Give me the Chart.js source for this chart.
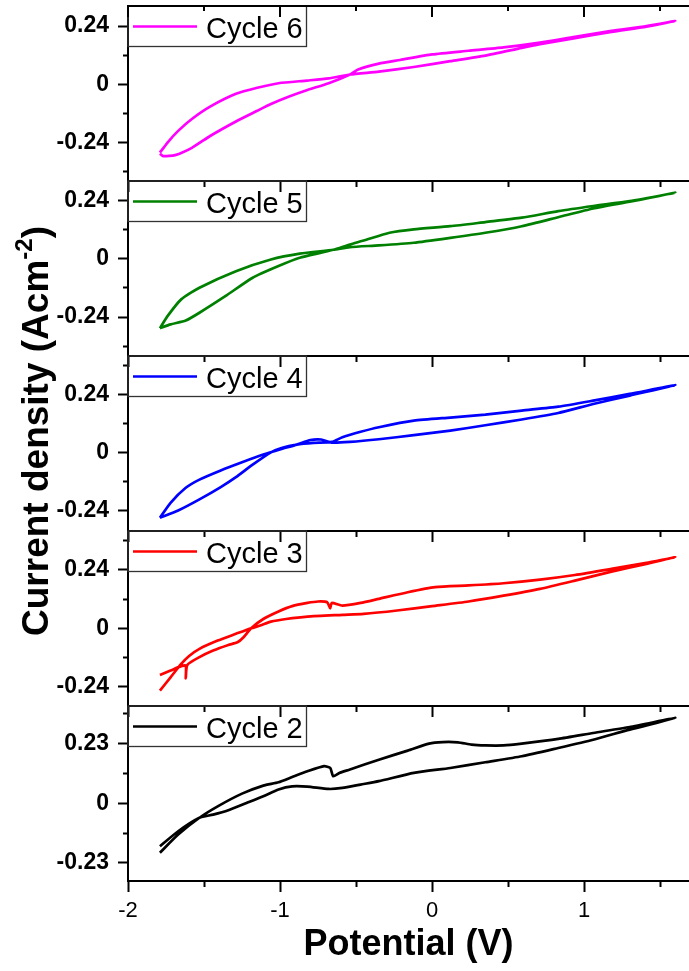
<!DOCTYPE html>
<html>
<head>
<meta charset="utf-8">
<title>Cyclic voltammetry - cycles 2 to 6</title>
<script src="https://cdn.jsdelivr.net/npm/chart.js@4.4.1/dist/chart.umd.min.js"></script>
<style>
  html, body { margin: 0; padding: 0; background: #fff; }
  #wrap { position: relative; width: 689px; height: 971px; overflow: hidden; }
  #wrap canvas { position: absolute; left: 0; top: 0; }
</style>
</head>
<body>
<div id="wrap">
  <canvas id="c6" width="689" height="971"></canvas>
  <canvas id="c5" width="689" height="971"></canvas>
  <canvas id="c4" width="689" height="971"></canvas>
  <canvas id="c3" width="689" height="971"></canvas>
  <canvas id="c2" width="689" height="971"></canvas>
</div>
<script>
// potential (V) and current density (A/cm2), in sweep order, one loop per cycle
const cycle6V = [-1.79, -1.74, -1.67, -1.58, -1.46, -1.29, -1.15, -1.01, -0.82, -0.68, -0.54, -0.35, -0.12, 0.12, 0.35, 0.59, 0.71, 0.94, 1.18, 1.41, 1.60, 1.41, 1.18, 0.94, 0.71, 0.47, 0.24, 0.00, -0.21, -0.35, -0.49, -0.54, -0.68, -0.82, -0.94, -1.06, -1.15, -1.29, -1.46, -1.58, -1.69, -1.77, -1.79];
const cycle6J = [-0.283, -0.241, -0.193, -0.144, -0.093, -0.040, -0.015, 0.004, 0.015, 0.024, 0.040, 0.052, 0.071, 0.095, 0.118, 0.150, 0.165, 0.190, 0.216, 0.238, 0.261, 0.240, 0.220, 0.196, 0.172, 0.152, 0.138, 0.123, 0.100, 0.085, 0.060, 0.040, 0.004, -0.024, -0.051, -0.082, -0.110, -0.154, -0.214, -0.263, -0.293, -0.297, -0.287];

const cycle5V = [-1.79, -1.74, -1.65, -1.53, -1.29, -1.06, -0.87, -0.65, -0.54, -0.35, -0.12, 0.12, 0.35, 0.59, 0.83, 1.06, 1.30, 1.60, 1.30, 1.06, 0.83, 0.59, 0.35, 0.12, -0.12, -0.28, -0.45, -0.54, -0.65, -0.73, -0.87, -1.01, -1.18, -1.36, -1.53, -1.62, -1.72, -1.79];
const cycle5J = [-0.286, -0.236, -0.167, -0.119, -0.051, -0.003, 0.021, 0.037, 0.048, 0.055, 0.066, 0.086, 0.107, 0.134, 0.171, 0.207, 0.235, 0.272, 0.237, 0.217, 0.196, 0.169, 0.151, 0.134, 0.121, 0.107, 0.075, 0.059, 0.037, 0.025, 0.004, -0.030, -0.078, -0.154, -0.222, -0.254, -0.270, -0.286];

const cycle4V = [-1.79, -1.72, -1.62, -1.53, -1.39, -1.25, -1.11, -0.99, -0.89, -0.80, -0.73, -0.66, -0.54, -0.35, -0.12, 0.12, 0.35, 0.59, 0.83, 1.06, 1.30, 1.60, 1.30, 1.06, 0.83, 0.59, 0.35, 0.12, -0.12, -0.35, -0.47, -0.59, -0.66, -0.78, -0.89, -0.99, -1.06, -1.18, -1.29, -1.39, -1.53, -1.67, -1.79];
const cycle4J = [-0.270, -0.208, -0.146, -0.112, -0.074, -0.040, -0.008, 0.015, 0.033, 0.052, 0.054, 0.041, 0.044, 0.055, 0.072, 0.091, 0.113, 0.137, 0.164, 0.201, 0.236, 0.279, 0.243, 0.215, 0.190, 0.174, 0.157, 0.145, 0.132, 0.105, 0.086, 0.063, 0.044, 0.040, 0.033, 0.019, 0.001, -0.050, -0.102, -0.143, -0.194, -0.240, -0.270];

const cycle3V = [-1.79, -1.72, -1.65, -1.62, -1.62, -1.61, -1.53, -1.44, -1.34, -1.28, -1.24, -1.19, -1.11, -1.01, -0.92, -0.82, -0.75, -0.69, -0.67, -0.66, -0.59, -0.47, -0.35, -0.16, 0.02, 0.24, 0.47, 0.71, 0.94, 1.18, 1.41, 1.60, 1.41, 1.18, 0.94, 0.71, 0.47, 0.24, 0.00, -0.23, -0.45, -0.59, -0.82, -0.96, -1.06, -1.13, -1.19, -1.29, -1.41, -1.53, -1.60, -1.65, -1.72, -1.79];
const cycle3J = [-0.192, -0.174, -0.156, -0.154, -0.206, -0.151, -0.119, -0.092, -0.069, -0.058, -0.037, 0.000, 0.038, 0.069, 0.091, 0.104, 0.110, 0.107, 0.082, 0.104, 0.093, 0.104, 0.121, 0.148, 0.169, 0.176, 0.185, 0.200, 0.219, 0.244, 0.269, 0.292, 0.265, 0.233, 0.196, 0.162, 0.134, 0.110, 0.091, 0.073, 0.059, 0.055, 0.048, 0.038, 0.027, 0.011, 0.000, -0.023, -0.051, -0.085, -0.115, -0.147, -0.202, -0.257];

const cycle2V = [-1.79, -1.67, -1.53, -1.41, -1.25, -1.11, -1.01, -0.92, -0.82, -0.71, -0.67, -0.65, -0.61, -0.54, -0.35, -0.16, -0.02, 0.07, 0.17, 0.26, 0.35, 0.47, 0.59, 0.83, 1.06, 1.30, 1.60, 1.30, 1.06, 0.83, 0.59, 0.35, 0.12, -0.12, -0.35, -0.47, -0.59, -0.68, -0.82, -0.92, -1.01, -1.11, -1.22, -1.34, -1.44, -1.53, -1.67, -1.79];
const cycle2J = [-0.191, -0.121, -0.056, -0.012, 0.037, 0.068, 0.081, 0.101, 0.123, 0.143, 0.136, 0.104, 0.117, 0.130, 0.168, 0.203, 0.230, 0.236, 0.235, 0.226, 0.223, 0.223, 0.230, 0.248, 0.271, 0.294, 0.329, 0.284, 0.245, 0.213, 0.181, 0.158, 0.136, 0.117, 0.085, 0.072, 0.059, 0.055, 0.064, 0.065, 0.053, 0.027, 0.001, -0.027, -0.044, -0.056, -0.108, -0.166];

// axis ticks
const xTicks = [-2, -1.5, -1, -0.5, 0, 0.5, 1, 1.5];
const yTicks24 = [-0.36, -0.24, -0.12, 0, 0.12, 0.24, 0.36];
const yMajor24 = [-0.24, 0, 0.24];
const yTicks23 = [-0.345, -0.23, -0.115, 0, 0.115, 0.23, 0.345];
const yMajor23 = [-0.23, 0, 0.23];

const FONT = '"Liberation Sans", Arial, Helvetica, sans-serif';
Chart.defaults.font.family = FONT;

const W = 689, H = 971;
const panelTop = [6, 181, 356, 531, 706];
const panelH = 175;

const panels = [
  { id: 'c6', label: 'Cycle 6', color: '#ff00ff', v: cycle6V, j: cycle6J, min: -0.40, max: 0.323, ticks: yTicks24, major: yMajor24 },
  { id: 'c5', label: 'Cycle 5', color: '#008000', v: cycle5V, j: cycle5J, min: -0.40, max: 0.32, ticks: yTicks24, major: yMajor24 },
  { id: 'c4', label: 'Cycle 4', color: '#0000ff', v: cycle4V, j: cycle4J, min: -0.325, max: 0.40, ticks: yTicks24, major: yMajor24 },
  { id: 'c3', label: 'Cycle 3', color: '#ff0000', v: cycle3V, j: cycle3J, min: -0.32, max: 0.40, ticks: yTicks24, major: yMajor24 },
  { id: 'c2', label: 'Cycle 2', color: '#000000', v: cycle2V, j: cycle2J, min: -0.30, max: 0.375, ticks: yTicks23, major: yMajor23 }
];

// boxed legend in the top-left corner of each panel
const legendBox = {
  id: 'legendBox',
  afterDatasetsDraw(chart) {
    const ctx = chart.ctx, a = chart.chartArea;
    const ds = chart.data.datasets[0];
    const l = a.left, t = a.top;
    ctx.save();
    ctx.strokeStyle = '#333';
    ctx.lineWidth = 1.3;
    ctx.strokeRect(l, t, 178.5, 40.5);
    ctx.strokeStyle = ds.borderColor;
    ctx.lineWidth = 2.5;
    ctx.beginPath();
    ctx.moveTo(l + 5, t + 20.5);
    ctx.lineTo(l + 69, t + 20.5);
    ctx.stroke();
    ctx.fillStyle = '#000';
    ctx.font = '29px ' + FONT;
    ctx.textBaseline = 'alphabetic';
    ctx.fillText(ds.label, l + 78, t + 31.5);
    ctx.restore();
  }
};

// frame line + inward ticks on top of the first panel
const topFrame = {
  id: 'topFrame',
  afterDraw(chart) {
    const ctx = chart.ctx, a = chart.chartArea, x = chart.scales.x;
    ctx.save();
    ctx.strokeStyle = '#000';
    ctx.lineWidth = 2;
    ctx.beginPath();
    ctx.moveTo(a.left - 1, a.top);
    ctx.lineTo(a.right, a.top);
    x.ticks.forEach(function (t) {
      const px = Math.round(x.getPixelForValue(t.value));
      const len = Number.isInteger(t.value) ? 11 : 5;
      ctx.moveTo(px, a.top);
      ctx.lineTo(px, a.top + len);
    });
    ctx.stroke();
    ctx.restore();
  }
};

// shared y title with superscript
const yTitle = {
  id: 'yTitle',
  afterDraw(chart) {
    const ctx = chart.ctx;
    const parts = [
      { s: 'Current density (Acm', f: 'bold 37px ' + FONT, dy: 0 },
      { s: '-2', f: 'bold 24px ' + FONT, dy: -16 },
      { s: ')', f: 'bold 37px ' + FONT, dy: 0 }
    ];
    let total = 0;
    parts.forEach(function (p) { ctx.font = p.f; p.w = ctx.measureText(p.s).width; total += p.w; });
    ctx.save();
    ctx.translate(47.5, 431);
    ctx.rotate(-Math.PI / 2);
    ctx.fillStyle = '#000';
    ctx.textBaseline = 'alphabetic';
    let x = -total / 2;
    parts.forEach(function (p) { ctx.font = p.f; ctx.fillText(p.s, x, p.dy); x += p.w; });
    ctx.restore();
  }
};

function isMajorY(p, v) {
  return p.major.some(function (m) { return Math.abs(m - v) < 1e-9; });
}

panels.forEach(function (p, i) {
  const last = i === panels.length - 1;
  const xh = last ? 90 : 12;
  const top = panelTop[i];
  const extra = [legendBox];
  if (i === 0) extra.push(topFrame);
  if (i === 2) extra.push(yTitle);

  new Chart(document.getElementById(p.id), {
    type: 'scatter',
    data: {
      datasets: [{
        label: p.label,
        data: p.v.map(function (v, k) { return { x: v, y: p.j[k] }; }),
        showLine: true,
        borderColor: p.color,
        backgroundColor: p.color,
        borderWidth: 2.7,
        pointRadius: 0,
        tension: 0.2,
        fill: false
      }]
    },
    options: {
      responsive: false,
      animation: false,
      events: [],
      layout: { padding: { top: top, left: 0, right: 0, bottom: H - top - panelH - xh } },
      plugins: { legend: { display: false }, tooltip: { enabled: false } },
      scales: {
        x: {
          type: 'linear',
          min: -2,
          max: 1.69,
          afterBuildTicks: function (s) { s.ticks = xTicks.map(function (v) { return { value: v }; }); },
          afterFit: function (s) { s.height = xh; s.paddingLeft = 0; s.paddingRight = 0; },
          border: { color: '#000', width: 2 },
          grid: {
            drawOnChartArea: false,
            tickLength: 11,
            tickWidth: 2,
            tickColor: '#000',
            tickBorderDash: function (c) { return (c.tick && !Number.isInteger(c.tick.value)) ? [5, 30] : []; }
          },
          ticks: {
            display: last,
            padding: 6,
            color: '#000',
            maxRotation: 0,
            font: { family: FONT, size: 22 },
            callback: function (v) { return Number.isInteger(v) ? String(v) : ''; }
          },
          title: {
            display: last,
            text: 'Potential (V)',
            color: '#000',
            font: { family: FONT, size: 36, weight: 'bold' },
            padding: { top: 0, bottom: 4 }
          }
        },
        y: {
          min: p.min,
          max: p.max,
          afterBuildTicks: function (s) {
            s.ticks = p.ticks.filter(function (v) { return v >= p.min && v <= p.max; })
              .map(function (v) { return { value: v }; });
          },
          afterFit: function (s) { s.width = 128; s.paddingTop = 0; s.paddingBottom = 0; },
          border: { color: '#000', width: 2 },
          grid: {
            drawOnChartArea: false,
            tickLength: 10,
            tickWidth: 2,
            tickColor: '#000',
            tickBorderDash: function (c) { return (c.tick && !isMajorY(p, c.tick.value)) ? [0, 5, 5, 30] : []; }
          },
          ticks: {
            padding: 9,
            color: '#000',
            font: { family: FONT, size: 23, weight: 'bold' },
            callback: function (v) { return isMajorY(p, v) ? String(v) : ''; }
          }
        }
      }
    },
    plugins: extra
  });
});
</script>
</body>
</html>
